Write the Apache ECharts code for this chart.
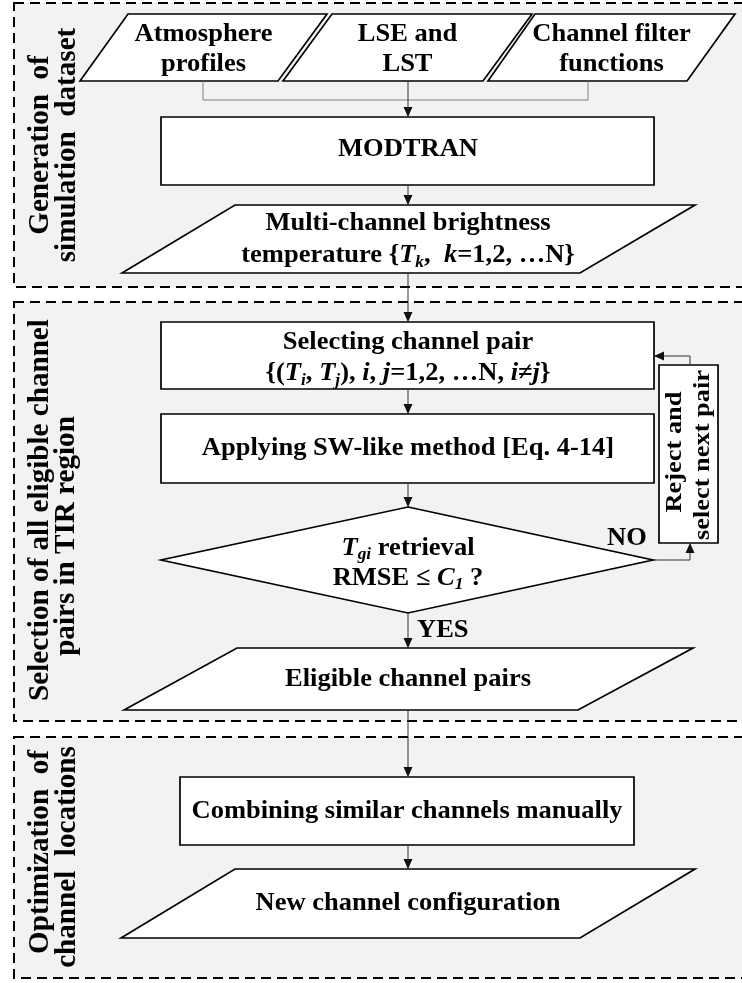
<!DOCTYPE html>
<html>
<head>
<meta charset="UTF-8">
<title>Channel selection flowchart</title>
<script src="https://cdn.jsdelivr.net/npm/echarts@6/dist/echarts.min.js"></script>
</head>
<body style="margin:0">
<div id="container" style="width:742px;height:983px;"></div>
<script type="text/javascript">
// texts of the diagram
var panelTitles = [
  ['Generation  of', 'simulation  dataset'],
  ['Selection of all eligible channel', 'pairs in TIR region'],
  ['Optimization  of', 'channel  locations']
];
var inputLabels = ['Atmosphere\nprofiles', 'LSE and\nLST', 'Channel filter\nfunctions'];
var modelLabel = 'MODTRAN';
var brightnessLabel = 'Multi-channel brightness\ntemperature {{it|T}{sub|k},  {it|k}=1,2, …N}';
var pairLabel = 'Selecting channel pair\n{({it|T}{sub|i}, {it|T}{sub|j}), {it|i}, {it|j}=1,2, …N, {it|i≠j}}';
var methodLabel = 'Applying SW-like method [Eq. 4-14]';
var testLabel = '{it|T}{sub|gi} retrieval\nRMSE ≤ {it|C}{sub|1} ?';
var eligibleLabel = 'Eligible channel pairs';
var combineLabel = 'Combining similar channels manually';
var configLabel = 'New channel configuration';
var rejectLabel = ['Reject and', 'select next pair'];
var yesLabel = 'YES';
var noLabel = 'NO';

var FONT = '"Liberation Serif", "Times New Roman", serif';
var SIZE = 26;

function richSet(size, lh) {
  return {
    it: { fontFamily: FONT, fontWeight: 'bold', fontStyle: 'italic', fontSize: size, lineHeight: lh, fill: '#000' },
    sub: { fontFamily: FONT, fontWeight: 'bold', fontStyle: 'italic', fontSize: Math.round(size * 0.66), lineHeight: lh, verticalAlign: 'bottom', fill: '#000' }
  };
}

function label(x, y, text, opt) {
  opt = opt || {};
  var size = opt.size || SIZE;
  var lh = opt.lh || 31;
  return {
    type: 'text', x: x, y: y, z: 10,
    rotation: opt.rotation || 0,
    scaleX: opt.sx || 1.02, scaleY: opt.sy || 1,
    style: {
      text: text, fontFamily: FONT, fontWeight: 'bold', fontSize: size,
      lineHeight: lh, fill: '#000',
      align: opt.align || 'center', verticalAlign: 'middle',
      rich: richSet(size, lh)
    }
  };
}

function sideLabel(x, y, text) {
  return label(x, y, text, { rotation: Math.PI / 2, sx: 1.04, sy: 1.02, size: 28, lh: 28 });
}

function rectBox(x, y, w, h) {
  return { type: 'rect', z: 2, shape: { x: x, y: y, width: w, height: h },
    style: { fill: '#fff', stroke: '#000', lineWidth: 1.7 } };
}

function para(pts) {
  return { type: 'polygon', z: 2, shape: { points: pts },
    style: { fill: '#fff', stroke: '#000', lineWidth: 1.7 } };
}

function line(pts, color) {
  return { type: 'polyline', z: 3, shape: { points: pts },
    style: { fill: null, stroke: color || '#333', lineWidth: 1 } };
}

function head(p, q, color) {
  var dx = q[0] - p[0], dy = q[1] - p[1];
  var len = Math.sqrt(dx * dx + dy * dy);
  var ux = dx / len, uy = dy / len;
  var bx = q[0] - ux * 10, by = q[1] - uy * 10;
  return { type: 'polygon', z: 4, shape: { points: [
      q, [bx - uy * 4.5, by + ux * 4.5], [bx + uy * 4.5, by - ux * 4.5]] },
    style: { fill: color || '#111', stroke: null } };
}

function arrow(pts) {
  return [line(pts), head(pts[pts.length - 2], pts[pts.length - 1])];
}

var els = [];

// dashed panels
var panels = [[3, 287], [302, 721], [737, 978]];
panels.forEach(function (p) {
  els.push({ type: 'rect', z: 0, shape: { x: 14, y: p[0], width: 760, height: p[1] - p[0] },
    style: { fill: '#f2f2f2', stroke: '#000', lineWidth: 2, lineDash: [10, 6] } });
});

// side titles
els.push(sideLabel(41, 145, panelTitles[0][0]));
els.push(sideLabel(68, 145, panelTitles[0][1]));
els.push(sideLabel(41, 510, panelTitles[1][0]));
els.push(sideLabel(67, 536, panelTitles[1][1]));
els.push(sideLabel(41, 852, panelTitles[2][0]));
els.push(sideLabel(68, 857, panelTitles[2][1]));

// inputs
var inputs = [
  [[80, 81], [128, 14], [327, 14], [278, 81]],
  [[283, 81], [332, 14], [532, 14], [483, 81]],
  [[488, 81], [535, 14], [735, 14], [687, 81]]
];
inputs.forEach(function (pts, i) {
  els.push(para(pts));
  els.push(label((pts[0][0] + pts[2][0]) / 2, 49, inputLabels[i], { lh: 30 }));
});
els.push(line([[203, 81], [203, 100], [588, 100], [588, 81]], '#808080'));
els = els.concat(arrow([[408, 81], [408, 117]]));

// MODTRAN
els.push(rectBox(161, 117, 493, 68));
els.push(label(408, 149, modelLabel));
els = els.concat(arrow([[408, 185], [408, 205]]));

// brightness temperature
els.push(para([[122, 273], [235, 205], [695, 205], [580, 273]]));
els.push(label(408, 239, brightnessLabel, { lh: 32 }));
els = els.concat(arrow([[408, 273], [408, 322]]));

// channel pair
els.push(rectBox(161, 322, 493, 67));
els.push(label(408, 358, pairLabel));
els = els.concat(arrow([[408, 389], [408, 414]]));

// SW-like method
els.push(rectBox(161, 414, 493, 69));
els.push(label(408, 448, methodLabel));
els = els.concat(arrow([[408, 483], [408, 507]]));

// decision
els.push({ type: 'polygon', z: 2, shape: { points: [[408, 507], [653, 560], [408, 613], [161, 560]] },
  style: { fill: '#fff', stroke: '#000', lineWidth: 1.7 } });
els.push(label(408, 563, testLabel, { lh: 30 }));
els.push(label(627, 538, noLabel));
els.push(label(417, 630, yesLabel, { align: 'left' }));

// reject loop
els.push(rectBox(659, 365, 59, 178));
els.push(label(675, 452, rejectLabel[0], { rotation: Math.PI / 2, size: 24, sx: 1.1, sy: 1, lh: 24 }));
els.push(label(703, 455, rejectLabel[1], { rotation: Math.PI / 2, size: 24, sx: 1.1, sy: 1, lh: 24 }));
els = els.concat(arrow([[653, 560], [690, 560], [690, 543]]));
els = els.concat(arrow([[690, 365], [690, 356], [654, 356]]));

// eligible pairs
els = els.concat(arrow([[408, 613], [408, 648]]));
els.push(para([[124, 710], [237, 648], [693, 648], [578, 710]]));
els.push(label(408, 679, eligibleLabel));
els = els.concat(arrow([[408, 710], [408, 777]]));

// optimisation
els.push(rectBox(180, 777, 454, 68));
els.push(label(407, 811, combineLabel));
els = els.concat(arrow([[408, 845], [408, 869]]));
els.push(para([[121, 938], [235, 869], [695, 869], [580, 938]]));
els.push(label(408, 903, configLabel));

var myChart = echarts.init(document.getElementById('container'));
myChart.setOption({
  backgroundColor: '#fff',
  animation: false,
  graphic: { elements: els }
});
</script>
</body>
</html>
